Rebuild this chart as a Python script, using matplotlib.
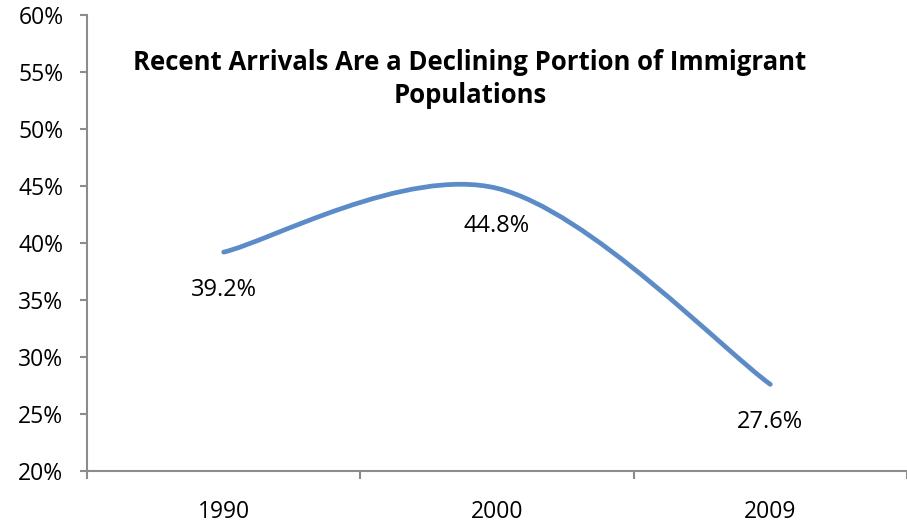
import matplotlib.pyplot as plt
from matplotlib.path import Path
from matplotlib.patches import PathPatch
from matplotlib.ticker import FuncFormatter

years = ["1990", "2000", "2009"]
share = [39.2, 44.8, 27.6]  # percent of immigrants who arrived recently

plt.rcParams["font.family"] = ["Open Sans", "DejaVu Sans"]

fig = plt.figure(figsize=(9.07, 5.26), dpi=100)
ax = fig.add_axes([87 / 907, 1 - 471 / 526, 1 - 87 / 907, (471 - 15) / 526])

# smoothed line: cubic bezier through the points (catmull-rom style tangents)
xs = list(range(len(share)))
pts = list(zip(xs, share))
verts = [pts[0]]
codes = [Path.MOVETO]
for i in range(len(pts) - 1):
    p0 = pts[i - 1] if i > 0 else pts[i]
    p1, p2 = pts[i], pts[i + 1]
    p3 = pts[i + 2] if i + 2 < len(pts) else pts[i + 1]
    c1 = (p1[0] + (p2[0] - p0[0]) / 6, p1[1] + (p2[1] - p0[1]) / 6)
    c2 = (p2[0] - (p3[0] - p1[0]) / 6, p2[1] - (p3[1] - p1[1]) / 6)
    verts += [c1, c2, p2]
    codes += [Path.CURVE4] * 3
ax.add_patch(PathPatch(Path(verts, codes), facecolor="none", edgecolor="#5B8BC8",
                       lw=3.4, capstyle="round"))

for x, v in zip(xs, share):
    ax.annotate(f"{v:.1f}%", (x, v), xytext=(0, -27), textcoords="offset points",
                ha="center", va="center", fontsize=17)

ax.set_xlim(-0.5, 2.5)
ax.set_ylim(20, 60)
ax.set_yticks(range(20, 61, 5))
ax.yaxis.set_major_formatter(FuncFormatter(lambda v, p: f"{v:.0f}%"))
ax.set_xticks([-0.5, 0.5, 1.5, 2.5])
ax.set_xticklabels([])
ax.set_xticks(xs, minor=True)
ax.set_xticklabels(years, minor=True)

for s in ["top", "right"]:
    ax.spines[s].set_visible(False)
for s in ["left", "bottom"]:
    ax.spines[s].set_color("#8c8c8c")
    ax.spines[s].set_linewidth(1.5)
ax.tick_params(axis="y", direction="out", length=5, width=1.5, color="#8c8c8c",
               labelsize=16.5, pad=12)
ax.tick_params(axis="x", which="major", direction="out", length=6, width=1.5,
               color="#8c8c8c")
ax.tick_params(axis="x", which="minor", length=0, labelsize=16.5, pad=21)

fig.text(470 / 907, 1 - 79 / 526,
         "Recent Arrivals Are a Declining Portion of Immigrant\nPopulations",
         ha="center", va="center", fontsize=18.5, fontweight="bold",
         multialignment="center", linespacing=1.3)

fig.savefig("out.png", dpi=100)
